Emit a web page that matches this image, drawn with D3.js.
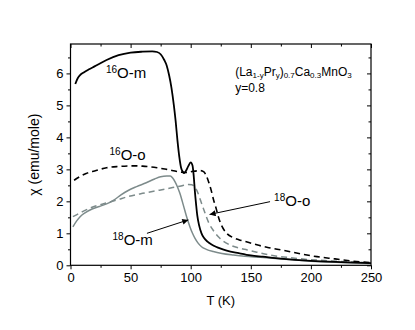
<!DOCTYPE html>
<html><head><meta charset="utf-8">
<script src="https://cdn.jsdelivr.net/npm/d3@7/dist/d3.min.js"></script>
<style>body{margin:0;background:#fff}svg{display:block}text{font-family:"Liberation Sans",Arial,sans-serif}</style>
</head><body><svg id="c" width="415" height="330"></svg>
<script>
// ---- data ----
const xTicks = [0, 50, 100, 150, 200, 250];
const yTicks = [0, 1, 2, 3, 4, 5, 6];
const xMinor = [25, 75, 125, 175, 225];
const yMinor = [0.5, 1.5, 2.5, 3.5, 4.5, 5.5, 6.5];

const T16m = [4, 6, 8, 11, 15, 20, 30, 40, 50, 60, 68, 72, 75, 78, 80, 82, 84, 86, 87.5, 89, 90.5, 92, 93.5, 94.5, 96, 98, 100, 101.5, 102.5, 103.5, 104.5, 105.5, 107, 109, 111, 114, 117, 121, 125, 130, 140, 150, 160, 175, 200, 225, 250];
const chi16m = [5.67, 5.85, 5.95, 6.03, 6.12, 6.22, 6.42, 6.57, 6.65, 6.68, 6.69, 6.67, 6.6, 6.42, 6.25, 5.95, 5.55, 5.0, 4.5, 3.9, 3.4, 3.05, 2.92, 2.88, 2.95, 3.1, 3.22, 3.12, 2.8, 2.3, 1.9, 1.55, 1.25, 1.0, 0.86, 0.74, 0.66, 0.58, 0.52, 0.46, 0.38, 0.31, 0.27, 0.21, 0.14, 0.1, 0.07];

const T16o = [3, 8, 13, 20, 30, 40, 52, 60, 72, 80, 91, 96, 102, 108, 111, 113, 115, 117, 119, 121, 123, 125, 127, 130, 135, 140, 147, 155, 165, 177, 190, 205, 220, 235, 250];
const chi16o = [2.66, 2.78, 2.87, 2.95, 3.05, 3.09, 3.11, 3.1, 3.05, 3.0, 2.92, 2.9, 2.94, 2.96, 2.92, 2.8, 2.6, 2.35, 2.05, 1.8, 1.52, 1.3, 1.15, 1.0, 0.87, 0.8, 0.73, 0.64, 0.55, 0.47, 0.37, 0.27, 0.2, 0.13, 0.08];

const T18m = [2, 5, 8, 12, 18, 24, 30, 36, 42, 48, 55, 63, 70, 75, 80, 83, 85, 87, 89, 91, 93, 95, 97, 99.4, 101.5, 103.6, 106, 109, 113, 118.8, 126, 135.5, 145, 157.8, 175, 200, 225, 250];
const chi18m = [1.2, 1.38, 1.52, 1.64, 1.76, 1.84, 1.92, 2.04, 2.2, 2.34, 2.46, 2.58, 2.7, 2.77, 2.79, 2.79, 2.73, 2.61, 2.45, 2.25, 2.0, 1.73, 1.47, 1.2, 1.0, 0.84, 0.7, 0.58, 0.5, 0.43, 0.37, 0.32, 0.28, 0.25, 0.2, 0.13, 0.09, 0.06];

const T18o = [2, 10, 19, 30, 40, 47, 60, 74, 85, 92, 98, 101, 103, 105, 107, 109, 111, 113, 115, 117.5, 120, 123, 127, 133, 140, 147, 155, 166, 180, 195, 215, 235, 250];
const chi18o = [1.52, 1.68, 1.83, 1.95, 2.06, 2.14, 2.25, 2.35, 2.43, 2.48, 2.53, 2.52, 2.46, 2.35, 2.16, 1.94, 1.73, 1.52, 1.33, 1.16, 1.03, 0.89, 0.76, 0.63, 0.54, 0.48, 0.41, 0.32, 0.25, 0.19, 0.14, 0.1, 0.07];

// annotation anchors (data coords)
const arrow18o = [[166, 1.99], [115.7, 1.59]];
const arrow18m = [[63.6, 1.0], [98, 1.42]];

// ---- chart ----
const svg = d3.select("#c");
const x = d3.scaleLinear().domain([0, 250]).range([70.5, 371]);
const y = d3.scaleLinear().domain([0, 6.92]).range([265.3, 44]);
const gray = "#7d8b8b";

const g = svg.append("g");

function axisStyle(sel) {
  sel.select(".domain").remove();
  sel.selectAll("line").attr("stroke", "#000").attr("stroke-width", 1);
  sel.selectAll("text").attr("font-size", 13).attr("fill", "#000")
     .attr("font-family", '"Liberation Sans",Arial,sans-serif');
}
// major
g.append("g").attr("transform", `translate(0,${y(0)})`)
  .call(d3.axisBottom(x).tickValues(xTicks).tickSize(4).tickPadding(3).tickFormat(d3.format("d"))).call(axisStyle);
g.append("g").attr("transform", `translate(${x(0)},0)`)
  .call(d3.axisLeft(y).tickValues(yTicks).tickSize(4).tickPadding(3).tickFormat(d3.format("d"))).call(axisStyle);
g.append("g").attr("transform", `translate(0,${y.range()[1]})`)
  .call(d3.axisTop(x).tickValues(xTicks).tickSize(-4).tickFormat("")).call(axisStyle);
g.append("g").attr("transform", `translate(${x(250)},0)`)
  .call(d3.axisRight(y).tickValues(yTicks).tickSize(-4).tickFormat("")).call(axisStyle);
// minor
g.append("g").attr("transform", `translate(0,${y(0)})`)
  .call(d3.axisBottom(x).tickValues(xMinor).tickSize(2.5).tickFormat("")).call(axisStyle);
g.append("g").attr("transform", `translate(${x(0)},0)`)
  .call(d3.axisLeft(y).tickValues(yMinor).tickSize(2.5).tickFormat("")).call(axisStyle);
g.append("g").attr("transform", `translate(0,${y.range()[1]})`)
  .call(d3.axisTop(x).tickValues(xMinor).tickSize(-2.5).tickFormat("")).call(axisStyle);
g.append("g").attr("transform", `translate(${x(250)},0)`)
  .call(d3.axisRight(y).tickValues(yMinor).tickSize(-2.5).tickFormat("")).call(axisStyle);

// frame
g.append("rect").attr("x", x(0)).attr("y", y.range()[1])
  .attr("width", x(250) - x(0)).attr("height", y(0) - y.range()[1])
  .attr("fill", "none").attr("stroke", "#000").attr("stroke-width", 1.2);

// curves
const line = d3.line().x(d => x(d[0])).y(d => y(d[1])).curve(d3.curveMonotoneX);
const zip = (a, b) => a.map((v, i) => [v, b[i]]);
svg.append("clipPath").attr("id", "pc").append("rect")
  .attr("x", x(0)).attr("y", y.range()[1]).attr("width", x(250) - x(0)).attr("height", y(0) - y.range()[1]);
const curves = svg.append("g").attr("clip-path", "url(#pc)");
curves.append("path").attr("d", line(zip(T18o, chi18o))).attr("fill", "none").attr("stroke", gray).attr("stroke-width", 1.5).attr("stroke-dasharray", "6,4");
curves.append("path").attr("d", line(zip(T18m, chi18m))).attr("fill", "none").attr("stroke", gray).attr("stroke-width", 1.5);
curves.append("path").attr("d", line(zip(T16o, chi16o))).attr("fill", "none").attr("stroke", "#000").attr("stroke-width", 1.6).attr("stroke-dasharray", "6,4");
curves.append("path").attr("d", line(zip(T16m, chi16m))).attr("fill", "none").attr("stroke", "#000").attr("stroke-width", 1.8);

// arrows
svg.append("defs").append("marker").attr("id", "ah").attr("viewBox", "0 0 10 10")
  .attr("refX", 10).attr("refY", 5).attr("markerWidth", 7).attr("markerHeight", 6)
  .attr("markerUnits", "userSpaceOnUse").attr("orient", "auto")
  .append("path").attr("d", "M0,0L10,5L0,10z").attr("fill", "#000");
[arrow18o, arrow18m].forEach(a => {
  svg.append("line").attr("x1", x(a[0][0])).attr("y1", y(a[0][1]))
    .attr("x2", x(a[1][0])).attr("y2", y(a[1][1]))
    .attr("stroke", "#000").attr("stroke-width", 1).attr("marker-end", "url(#ah)");
});

// labels
function isoLabel(tx, ty, mass, rest) {
  const t = svg.append("text").attr("x", x(tx)).attr("y", y(ty)).attr("font-size", 15).attr("fill", "#000");
  t.append("tspan").attr("font-size", 10).attr("dy", -5).text(mass);
  t.append("tspan").attr("dy", 5).text(rest);
}
isoLabel(29.5, 5.87, "16", "O-m");
isoLabel(32.5, 3.29, "16", "O-o");
isoLabel(35, 0.63, "18", "O-m");
isoLabel(169.4, 1.84, "18", "O-o");

// formula
const f = svg.append("text").attr("x", x(137)).attr("y", y(5.92)).attr("font-size", 12).attr("fill", "#000");
const parts = [["(La", 0], ["1-y", 1], ["Pr", 0], ["y", 1], [")", 0], ["0.7", 1], ["Ca", 0], ["0.3", 1], ["MnO", 0], ["3", 1]];
let sub = false;
parts.forEach(([s, isSub]) => {
  const ts = f.append("tspan").text(s);
  if (isSub) { ts.attr("font-size", 8).attr("dy", sub ? 0 : 2.5); sub = true; }
  else { ts.attr("dy", sub ? -2.5 : 0); sub = false; }
});
svg.append("text").attr("x", x(137)).attr("y", y(5.42)).attr("font-size", 12).attr("fill", "#000").text("y=0.8");

// axis titles
svg.append("text").attr("x", (x(0) + x(250)) / 2).attr("y", 305).attr("text-anchor", "middle")
  .attr("font-size", 13).attr("fill", "#000").text("T (K)");
svg.append("text").attr("transform", `translate(39,${(y(0) + y.range()[1]) / 2}) rotate(-90)`)
  .attr("text-anchor", "middle").attr("font-size", 14).attr("fill", "#000").text("χ (emu/mole)");
</script></body></html>
